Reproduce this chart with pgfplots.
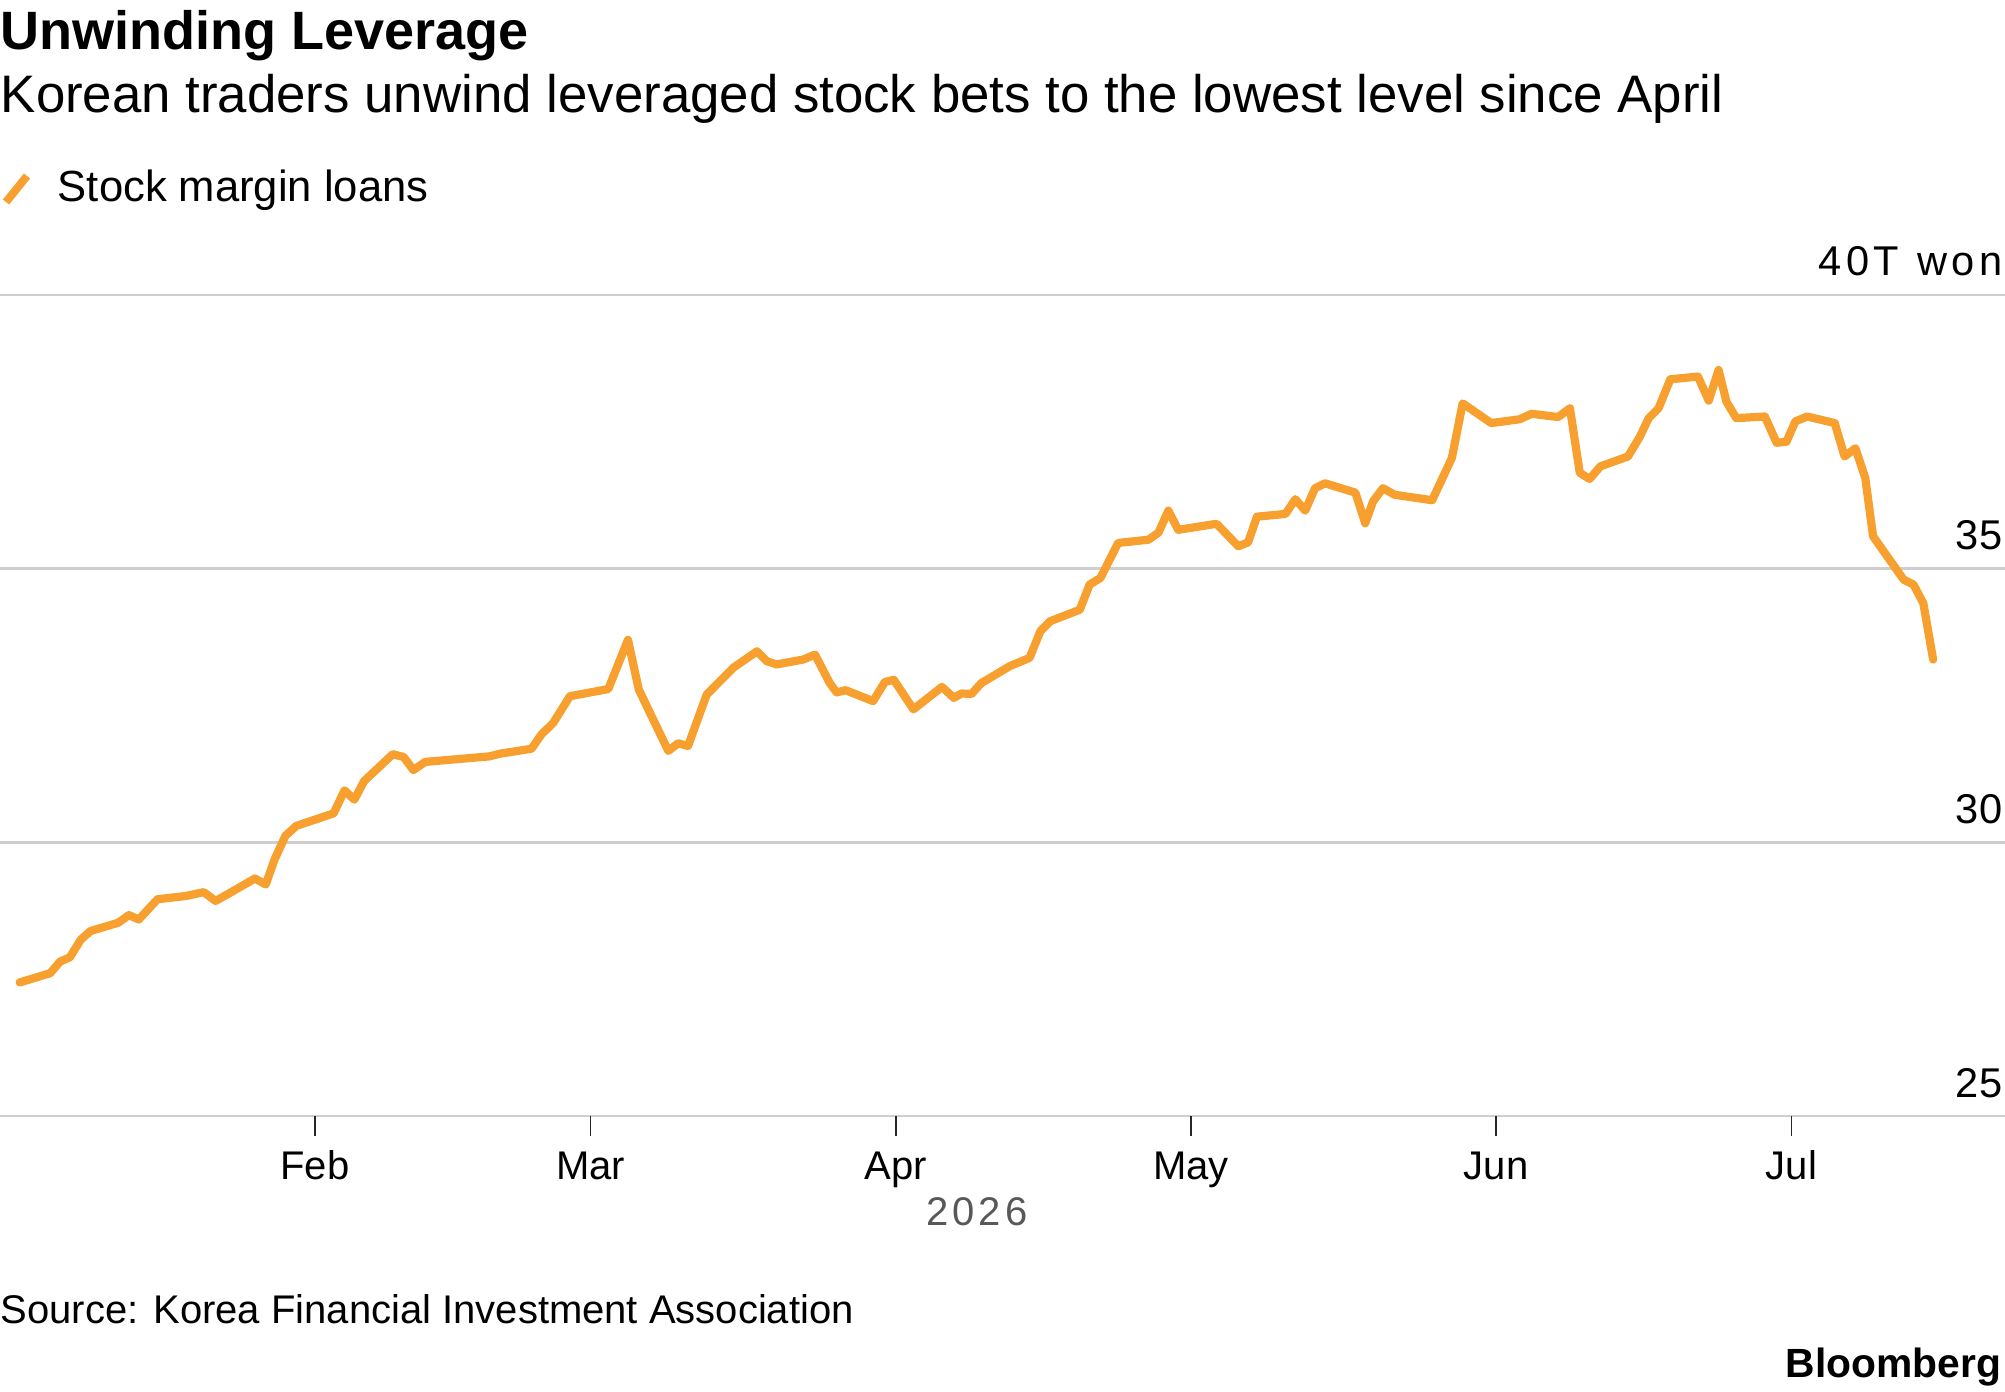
\documentclass[border=0pt]{standalone}
\usepackage{fontspec}
\setmainfont{Liberation Sans}
\usepackage{pgfplots}
\pgfplotsset{compat=1.18}
\usepackage{pgfplotstable}

\definecolor{loanorange}{RGB}{247,160,48}
\definecolor{gridgray}{RGB}{206,206,206}
\definecolor{yeargray}{RGB}{88,88,88}

% Stock margin loans, trillion won; x = day of year 2026
\pgfplotstableread{
d v
2.0 27.44
5.1 27.61
6.1 27.82
7.1 27.90
8.2 28.22
9.2 28.38
12.0 28.53
13.1 28.67
14.1 28.59
16.0 28.96
18.9 29.02
20.7 29.09
21.9 28.93
23.2 29.06
25.9 29.34
27.0 29.23
27.9 29.69
29.0 30.12
30.1 30.30
33.9 30.53
35.0 30.95
36.0 30.78
37.0 31.12
39.9 31.61
41.0 31.56
42.0 31.32
43.2 31.47
49.7 31.57
50.8 31.62
54.0 31.71
55.0 31.97
56.2 32.18
57.9 32.67
61.8 32.80
63.8 33.70
64.9 32.79
67.9 31.67
68.9 31.81
69.9 31.76
71.8 32.70
74.5 33.19
76.9 33.49
77.9 33.31
78.9 33.25
81.6 33.34
82.8 33.43
84.3 32.91
85.0 32.74
85.9 32.78
88.7 32.58
89.9 32.93
90.8 32.97
92.8 32.43
95.7 32.84
96.9 32.64
97.7 32.72
98.7 32.71
99.7 32.91
102.6 33.22
104.6 33.37
105.7 33.86
106.7 34.04
109.7 34.25
110.7 34.71
111.8 34.83
113.6 35.47
116.7 35.53
117.7 35.66
118.7 36.06
119.7 35.71
123.6 35.82
125.8 35.41
126.8 35.48
127.7 35.95
130.6 36.00
131.6 36.27
132.6 36.06
133.6 36.47
134.6 36.56
137.7 36.39
138.7 35.83
139.5 36.23
140.5 36.47
141.7 36.35
145.5 36.25
147.5 37.02
148.6 38.02
151.5 37.66
154.4 37.73
155.6 37.83
158.3 37.77
159.5 37.93
160.5 36.75
161.5 36.64
162.6 36.87
165.4 37.05
166.6 37.41
167.5 37.75
168.5 37.93
169.7 38.46
172.5 38.51
173.6 38.07
174.6 38.63
175.4 38.05
176.4 37.75
179.3 37.78
180.5 37.30
181.5 37.32
182.4 37.69
183.6 37.78
186.4 37.66
187.4 37.05
188.5 37.20
189.5 36.66
190.3 35.59
193.4 34.80
194.4 34.71
195.4 34.37
196.4 33.34
}\loans

\newcommand{\ticklabelfont}{\fontsize{10}{12}\selectfont}
\newcommand{\valuefont}{\fontsize{10.4}{12}\selectfont}

\begin{document}
\begin{tikzpicture}
\begin{scope}[x=0.25pt,y=-0.25pt]
  % headline block
  \node[anchor=base west, inner sep=0pt, font=\fontsize{13.5}{16}\selectfont\bfseries] at (0,50) {Unwinding Leverage};
  \node[anchor=base west, inner sep=0pt, font=\fontsize{13.2}{16}\selectfont] at (0,112) {Korean traders unwind leveraged stock bets to the lowest level since April};
  % legend
  \draw[loanorange, line width=2pt] (6,202) -- (27,176);
  \node[anchor=base west, inner sep=0pt, font=\fontsize{10.9}{13}\selectfont] at (57,201) {Stock margin loans};
  % year under the month ticks
  \node[anchor=base, inner sep=0pt, text=yeargray, font=\fontsize{10}{12}\selectfont\addfontfeatures{LetterSpace=10}] at (977,1225) {2026};
  % footer
  \node[anchor=base west, inner sep=0pt, font=\fontsize{10}{12}\selectfont] at (0,1323) {Source: Korea Financial Investment Association};
  \node[anchor=base east, inner sep=0pt, font=\fontsize{10.2}{12}\selectfont\bfseries] at (2002,1377) {Bloomberg};
\end{scope}

\begin{axis}[
  at={(0pt,-279pt)}, anchor=south west,
  scale only axis, width=501.25pt, height=205.25pt,
  xmin=0, xmax=203.7, ymin=25, ymax=40,
  clip=false,
  axis line style={draw=none},
  ytick={25,30,35,40}, yticklabels={}, ytick style={draw=none},
  ymajorgrids, grid style={gridgray, line width=0.6pt},
  xtick={32,60,91,121,152,182}, xticklabels={},
  xtick pos=bottom, xtick align=outside,
  major tick length=5pt,
  xtick style={draw=black!85, line width=0.45pt},
]
  \addplot[loanorange, line width=2.05pt, line join=round, line cap=round] table[x=d, y=v] {\loans};

  % value labels sitting above the grid lines at the right edge
  \node[anchor=base east, inner sep=0pt, font=\valuefont\addfontfeatures{LetterSpace=10}] at (axis cs:203.7,40) [xshift=-0.5pt, yshift=5pt] {40T\hspace{0.45em}won};
  \node[anchor=base east, inner sep=0pt, font=\valuefont] at (axis cs:203.7,35) [xshift=-0.5pt, yshift=4.75pt] {35};
  \node[anchor=base east, inner sep=0pt, font=\valuefont] at (axis cs:203.7,30) [xshift=-0.5pt, yshift=4.75pt] {30};
  \node[anchor=base east, inner sep=0pt, font=\valuefont] at (axis cs:203.7,25) [xshift=-0.5pt, yshift=4.75pt] {25};

  % month names under the ticks
  \node[anchor=base, inner sep=0pt, font=\ticklabelfont] at (axis cs:32,25) [yshift=-15.75pt] {Feb};
  \node[anchor=base, inner sep=0pt, font=\ticklabelfont] at (axis cs:60,25) [yshift=-15.75pt] {Mar};
  \node[anchor=base, inner sep=0pt, font=\ticklabelfont] at (axis cs:91,25) [yshift=-15.75pt] {Apr};
  \node[anchor=base, inner sep=0pt, font=\ticklabelfont] at (axis cs:121,25) [yshift=-15.75pt] {May};
  \node[anchor=base, inner sep=0pt, font=\ticklabelfont] at (axis cs:152,25) [yshift=-15.75pt] {Jun};
  \node[anchor=base, inner sep=0pt, font=\ticklabelfont] at (axis cs:182,25) [yshift=-15.75pt] {Jul};
\end{axis}

% the page is exactly the chart frame
\pgfresetboundingbox
\path[use as bounding box] (0pt,0pt) rectangle (501.25pt,-348pt);
\end{tikzpicture}
\end{document}
